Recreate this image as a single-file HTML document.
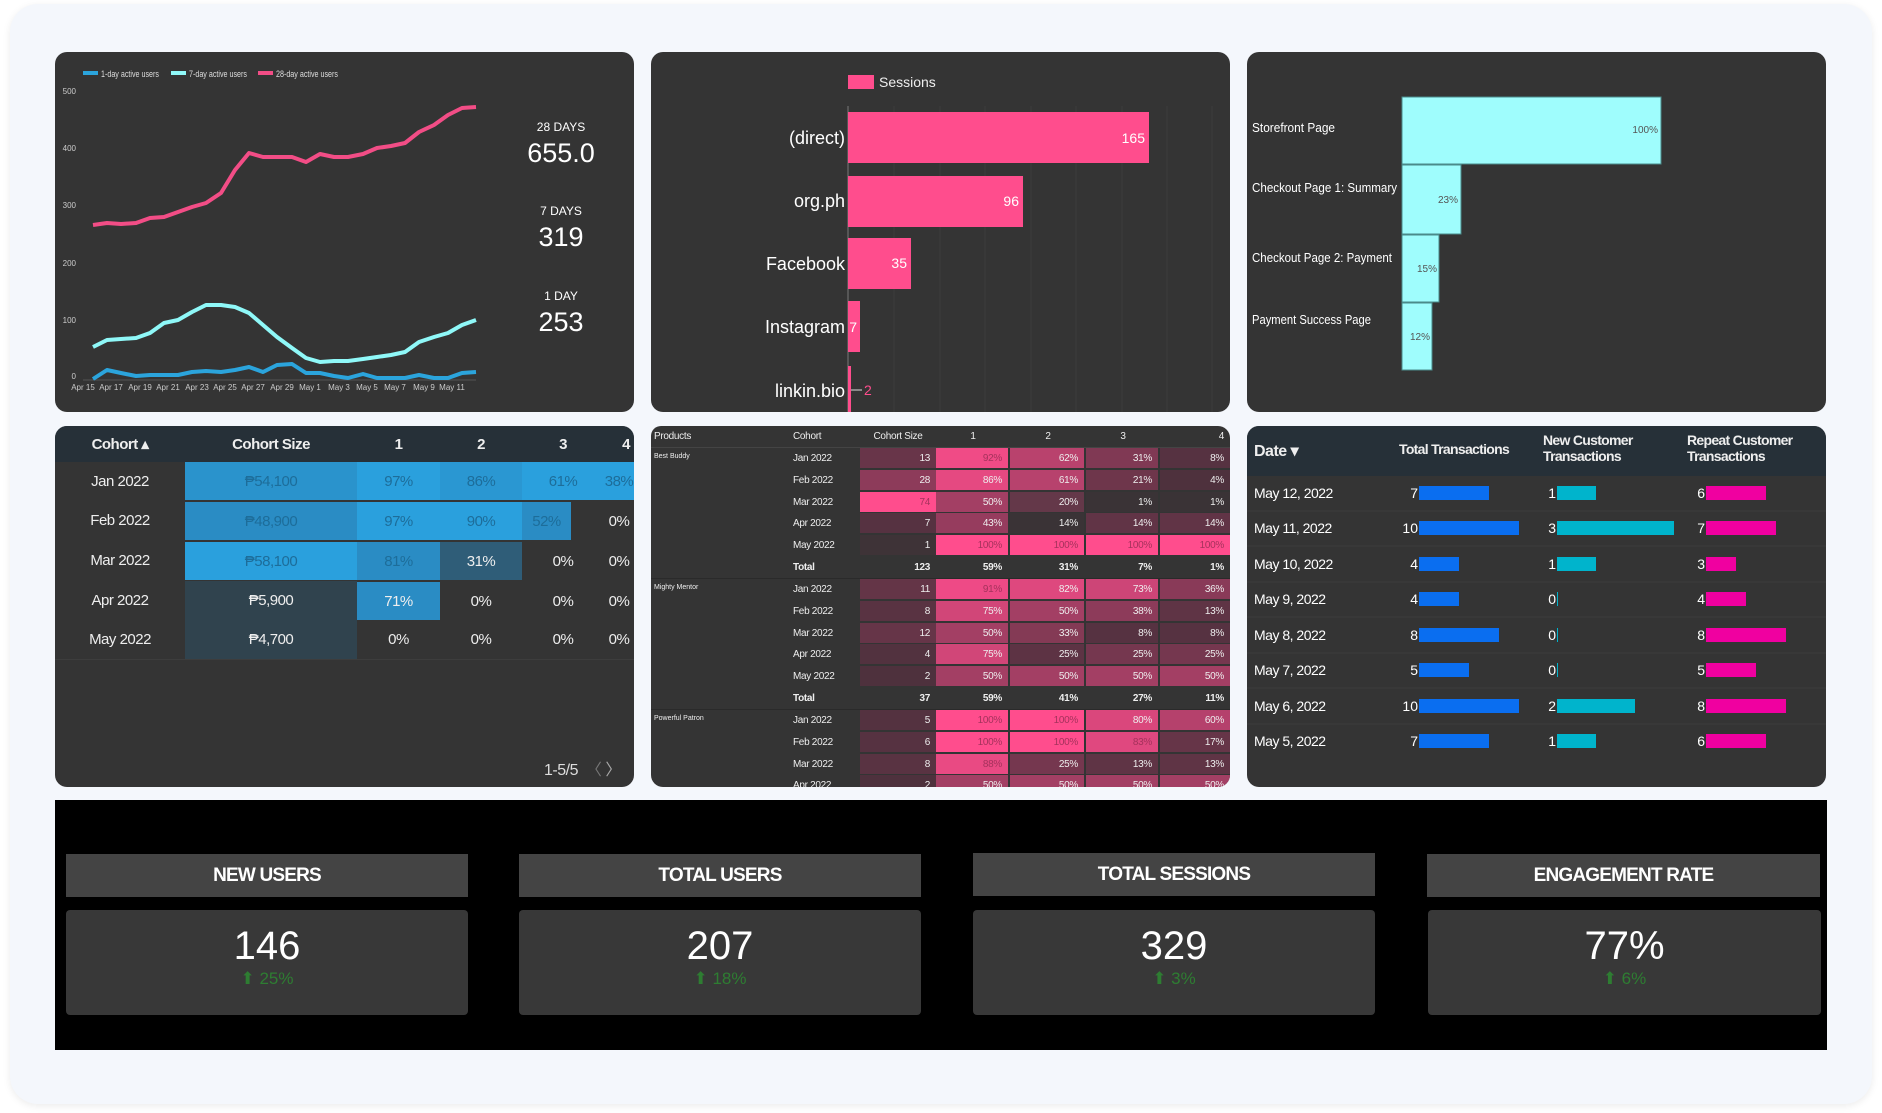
<!DOCTYPE html>
<html><head><meta charset="utf-8">
<style>
*{box-sizing:border-box;margin:0;padding:0}
body{width:1882px;height:1113px;background:#fff;position:relative;overflow:hidden;font-family:"Liberation Sans Narrow","Liberation Sans",sans-serif;color:#eee}
.card{position:absolute;left:10px;top:4px;width:1862px;height:1100px;background:#f4f7fc;border-radius:28px;box-shadow:0 2px 8px rgba(0,0,0,.08)}
.p{position:absolute;background:#343434;border-radius:12px;overflow:hidden}
.a{position:absolute;white-space:nowrap}
svg text{font-family:"Liberation Sans Narrow","Liberation Sans",sans-serif}
.lt .c{position:absolute;display:flex;align-items:center;justify-content:center;font-size:15px;letter-spacing:-0.5px}
.mt .c{position:absolute;display:flex;align-items:center;font-size:10px;height:20px;letter-spacing:-0.3px}
.r{justify-content:flex-end;padding-right:6px}
.kh{position:absolute;top:854px;height:43px;background:#444;display:flex;align-items:center;justify-content:center;font-family:"Liberation Sans",sans-serif;font-weight:bold;font-size:19px;letter-spacing:-0.8px;color:#fff}
.kv{position:absolute;top:910px;height:105px;background:#383838;border-radius:4px;text-align:center}
.kv b{display:block;font-family:"Liberation Sans",sans-serif;font-weight:normal;font-size:40px;color:#fff;margin-top:14px;line-height:44px}
.kv i{display:block;font-style:normal;font-family:"Liberation Sans",sans-serif;font-size:17px;color:#2e7d32;line-height:22px}
</style></head><body>
<div class="card"></div>

<div class="p" style="left:55px;top:52px;width:579px;height:360px"></div>
<div class="p" style="left:651px;top:52px;width:579px;height:360px"></div>
<div class="p" style="left:1247px;top:52px;width:579px;height:360px"></div>

<svg style="position:absolute;left:0;top:0" width="1882" height="1113">
<rect x="83" y="71" width="15" height="4" fill="#2ba4dc"/><text x="101" y="77" font-size="9" fill="#ddd" textLength="58" lengthAdjust="spacingAndGlyphs">1-day active users</text>
<rect x="171" y="71" width="15" height="4" fill="#8ff8f8"/><text x="189" y="77" font-size="9" fill="#ddd" textLength="58" lengthAdjust="spacingAndGlyphs">7-day active users</text>
<rect x="258" y="71" width="15" height="4" fill="#f24d86"/><text x="276" y="77" font-size="9" fill="#ddd" textLength="62" lengthAdjust="spacingAndGlyphs">28-day active users</text>
<g font-size="8" fill="#ccc" text-anchor="end">
<text x="76" y="94">500</text><text x="76" y="151">400</text><text x="76" y="208">300</text><text x="76" y="266">200</text><text x="76" y="323">100</text><text x="76" y="379">0</text>
</g>
<line x1="83" y1="380" x2="476" y2="380" stroke="#555" stroke-width="1"/>
<g font-size="8" fill="#ccc" text-anchor="middle">
<text x="83" y="390">Apr 15</text><text x="111" y="390">Apr 17</text><text x="140" y="390">Apr 19</text><text x="168" y="390">Apr 21</text><text x="197" y="390">Apr 23</text><text x="225" y="390">Apr 25</text><text x="253" y="390">Apr 27</text><text x="282" y="390">Apr 29</text><text x="310" y="390">May 1</text><text x="339" y="390">May 3</text><text x="367" y="390">May 5</text><text x="395" y="390">May 7</text><text x="424" y="390">May 9</text><text x="452" y="390">May 11</text>
</g>
<polyline fill="none" stroke="#f24d86" stroke-width="4" stroke-linejoin="round" points="93,225 107,223 121,224 136,223 150,218 164,217 178,212 192,207 206,203 221,193 235,170 249,153 263,157 277,157 292,157 306,162 320,154 334,157 348,157 363,154 377,148 391,146 405,143 419,132 434,125 448,115 462,108 476,107"/>
<polyline fill="none" stroke="#8ff8f8" stroke-width="4" stroke-linejoin="round" points="93,347 107,340 121,339 136,338 150,333 164,323 178,320 192,312 206,305 221,305 235,307 249,313 263,325 277,337 292,348 306,358 320,362 334,361 348,361 363,359 377,357 391,355 405,352 419,342 434,337 448,333 462,325 476,320"/>
<polyline fill="none" stroke="#2ba4dc" stroke-width="4" stroke-linejoin="round" points="93,379 107,370 121,373 136,376 150,375 164,375 178,375 192,372 206,371 221,372 235,370 249,367 263,372 277,365 292,364 306,373 320,373 334,376 348,378 363,374 377,378 391,378 405,378 419,375 434,378 448,378 462,373 476,372"/>
<g fill="#fff" text-anchor="middle">
<text x="561" y="131" font-size="12">28 DAYS</text><text x="561" y="162" font-size="27">655.0</text>
<text x="561" y="215" font-size="12">7 DAYS</text><text x="561" y="246" font-size="27">319</text>
<text x="561" y="300" font-size="12">1 DAY</text><text x="561" y="331" font-size="27">253</text>
</g>

<rect x="848" y="75" width="26" height="14" fill="#ff4d8d"/><text x="879" y="87" font-size="14" fill="#eee">Sessions</text>
<g stroke="#3c3c3c" stroke-width="1">
<line x1="894" y1="106" x2="894" y2="412"/><line x1="940" y1="106" x2="940" y2="412"/><line x1="985" y1="106" x2="985" y2="412"/><line x1="1031" y1="106" x2="1031" y2="412"/><line x1="1076" y1="106" x2="1076" y2="412"/><line x1="1122" y1="106" x2="1122" y2="412"/><line x1="1167" y1="106" x2="1167" y2="412"/><line x1="1212" y1="106" x2="1212" y2="412"/>
</g>
<line x1="848" y1="106" x2="848" y2="412" stroke="#777" stroke-width="1"/>
<rect x="848" y="112" width="301" height="51" fill="#ff4d8d"/>
<rect x="848" y="176" width="175" height="51" fill="#ff4d8d"/>
<rect x="848" y="238" width="63" height="51" fill="#ff4d8d"/>
<rect x="848" y="301" width="12" height="51" fill="#ff4d8d"/>
<rect x="848" y="366" width="3" height="46" fill="#ff4d8d"/>
<line x1="851" y1="390" x2="862" y2="390" stroke="#888" stroke-width="2"/>
<g font-size="14" fill="#fff" text-anchor="end"><text x="1145" y="143">165</text><text x="1019" y="206">96</text><text x="907" y="268">35</text><text x="857" y="332">7</text></g>
<text x="864" y="395" font-size="14" fill="#ff4d8d">2</text>
<g font-size="18" fill="#fff" text-anchor="end"><text x="845" y="144">(direct)</text><text x="845" y="207">org.ph</text><text x="845" y="270">Facebook</text><text x="845" y="333">Instagram</text><text x="845" y="397">linkin.bio</text></g>

<g fill="#9ffdfd" stroke="#4a8a8a" stroke-width="1">
<rect x="1402" y="97" width="259" height="67"/><rect x="1402" y="165" width="59" height="69"/><rect x="1402" y="235" width="37" height="67"/><rect x="1402" y="303" width="30" height="67"/>
</g>
<g font-size="10" fill="#555" text-anchor="end"><text x="1658" y="133">100%</text><text x="1458" y="203">23%</text><text x="1437" y="272">15%</text><text x="1430" y="340">12%</text></g>
<g font-size="13" fill="#fff" lengthAdjust="spacingAndGlyphs"><text x="1252" y="132" textLength="83" lengthAdjust="spacingAndGlyphs">Storefront Page</text><text x="1252" y="192" textLength="145" lengthAdjust="spacingAndGlyphs">Checkout Page 1: Summary</text><text x="1252" y="262" textLength="140" lengthAdjust="spacingAndGlyphs">Checkout Page 2: Payment</text><text x="1252" y="324" textLength="119" lengthAdjust="spacingAndGlyphs">Payment Success Page</text></g>
</svg>

<!-- Left cohort table -->
<div class="p lt" style="left:55px;top:426px;width:579px;height:361px">
<div class="a" style="left:0;top:0;width:579px;height:36px;background:#263038"></div>
<div class="c" style="left:0;top:0;width:130px;height:36px;font-weight:bold">Cohort ▴</div>
<div class="c" style="left:130px;top:0;width:172px;height:36px;font-weight:bold">Cohort Size</div>
<div class="c" style="left:302px;top:0;width:83px;height:36px;font-weight:bold">1</div>
<div class="c" style="left:385px;top:0;width:82px;height:36px;font-weight:bold">2</div>
<div class="c" style="left:467px;top:0;width:82px;height:36px;font-weight:bold">3</div>
<div class="c" style="left:549px;top:0;width:30px;height:36px;font-weight:bold;justify-content:flex-end;padding-right:4px">4</div>
<div class="c" style="left:0;top:36px;width:130px;height:39px">Jan 2022</div>
<div class="c" style="left:130px;top:36px;width:172px;height:38px;background:#2a93cc;color:#1d6d9a">₱54,100</div>
<div class="c" style="left:302px;top:36px;width:83px;height:38px;background:#2aa0dd;color:#1d6d9a">97%</div>
<div class="c" style="left:385px;top:36px;width:82px;height:38px;background:#2a97d2;color:#1d6d9a">86%</div>
<div class="c" style="left:467px;top:36px;width:82px;height:38px;background:#2aa0dd;color:#1d6d9a">61%</div>
<div class="c" style="left:549px;top:36px;width:30px;height:38px;background:#2aa0dd;color:#1d6d9a">38%</div>
<div class="c" style="left:0;top:75px;width:130px;height:39px">Feb 2022</div>
<div class="c" style="left:130px;top:76px;width:172px;height:38px;background:#2a8cc4;color:#1d6d9a">₱48,900</div>
<div class="c" style="left:302px;top:76px;width:83px;height:38px;background:#2aa0dd;color:#1d6d9a">97%</div>
<div class="c" style="left:385px;top:76px;width:82px;height:38px;background:#2aa0dd;color:#1d6d9a">90%</div>
<div class="c" style="left:467px;top:76px;width:49px;height:38px;background:#2a8cc4;color:#1d6d9a">52%</div>
<div class="c" style="left:549px;top:76px;width:30px;height:38px">0%</div>
<div class="c" style="left:0;top:115px;width:130px;height:39px">Mar 2022</div>
<div class="c" style="left:130px;top:116px;width:172px;height:38px;background:#2aa0dd;color:#1d6d9a">₱58,100</div>
<div class="c" style="left:302px;top:116px;width:83px;height:38px;background:#2a8cc4;color:#1d6d9a">81%</div>
<div class="c" style="left:385px;top:116px;width:82px;height:38px;background:#2f5d78">31%</div>
<div class="c" style="left:467px;top:116px;width:82px;height:38px">0%</div>
<div class="c" style="left:549px;top:116px;width:30px;height:38px">0%</div>
<div class="c" style="left:0;top:155px;width:130px;height:39px">Apr 2022</div>
<div class="c" style="left:130px;top:155px;width:172px;height:39px;background:#30434e">₱5,900</div>
<div class="c" style="left:302px;top:156px;width:83px;height:38px;background:#2a8cc4">71%</div>
<div class="c" style="left:385px;top:156px;width:82px;height:38px">0%</div>
<div class="c" style="left:467px;top:156px;width:82px;height:38px">0%</div>
<div class="c" style="left:549px;top:156px;width:30px;height:38px">0%</div>
<div class="c" style="left:0;top:194px;width:130px;height:39px">May 2022</div>
<div class="c" style="left:130px;top:194px;width:172px;height:39px;background:#30434e">₱4,700</div>
<div class="c" style="left:302px;top:194px;width:83px;height:39px">0%</div>
<div class="c" style="left:385px;top:194px;width:82px;height:39px">0%</div>
<div class="c" style="left:467px;top:194px;width:82px;height:39px">0%</div>
<div class="c" style="left:549px;top:194px;width:30px;height:39px">0%</div>
<div class="a" style="left:0;top:233px;width:579px;height:1px;background:#3d3d3d"></div>
<div class="a" style="left:489px;top:206px;top:330px;font-size:16px;color:#ddd;letter-spacing:-0.5px">1-5/5 &nbsp;<span style="color:#777">〈</span> <span style="color:#aaa">〉</span></div>
</div>

<!-- Middle heatmap -->
<div class="p mt" style="left:651px;top:426px;width:579px;height:361px;border-top-left-radius:10px">
<div class="c" style="left:3px;top:0;font-size:10px">Products</div>
<div class="c" style="left:142px;top:0">Cohort</div>
<div class="c" style="left:209px;top:0;width:76px;justify-content:center">Cohort Size</div>
<div class="c" style="left:285px;top:0;width:74px;justify-content:center">1</div>
<div class="c" style="left:359px;top:0;width:76px;justify-content:center">2</div>
<div class="c" style="left:435px;top:0;width:74px;justify-content:center">3</div>
<div class="c r" style="left:509px;top:0;width:70px">4</div>
<div class="a" style="left:0;top:21px;width:579px;height:1px;background:#444"></div>
<div class="a" style="left:3px;top:27px;font-size:7px">Best Buddy</div>
<div class="a" style="left:3px;top:158px;font-size:7px">Mighty Mentor</div>
<div class="a" style="left:3px;top:289px;font-size:7px">Powerful Patron</div>
<div class="a" style="left:0;top:152px;width:579px;height:1px;background:#2a2a2a"></div>
<div class="a" style="left:0;top:283px;width:579px;height:1px;background:#2a2a2a"></div>

<div class="c" style="left:142px;top:22px">Jan 2022</div>
<div class="c r" style="left:209px;top:22px;width:76px;background:color-mix(in srgb,#ff4d8d 18%,#47303a)">13</div>
<div class="c r" style="left:285px;top:22px;width:72px;background:color-mix(in srgb,#ff4d8d 92%,#47303a);color:#a5325c">92%</div>
<div class="c r" style="left:359px;top:22px;width:74px;background:color-mix(in srgb,#ff4d8d 62%,#47303a)">62%</div>
<div class="c r" style="left:435px;top:22px;width:72px;background:color-mix(in srgb,#ff4d8d 31%,#47303a)">31%</div>
<div class="c r" style="left:509px;top:22px;width:70px;background:color-mix(in srgb,#ff4d8d 8%,#47303a)">8%</div>
<div class="c" style="left:142px;top:44px">Feb 2022</div>
<div class="c r" style="left:209px;top:44px;width:76px;background:color-mix(in srgb,#ff4d8d 38%,#47303a)">28</div>
<div class="c r" style="left:285px;top:44px;width:72px;background:color-mix(in srgb,#ff4d8d 86%,#47303a)">86%</div>
<div class="c r" style="left:359px;top:44px;width:74px;background:color-mix(in srgb,#ff4d8d 61%,#47303a)">61%</div>
<div class="c r" style="left:435px;top:44px;width:72px;background:color-mix(in srgb,#ff4d8d 21%,#47303a)">21%</div>
<div class="c r" style="left:509px;top:44px;width:70px;background:color-mix(in srgb,#ff4d8d 4%,#47303a)">4%</div>
<div class="c" style="left:142px;top:66px">Mar 2022</div>
<div class="c r" style="left:209px;top:66px;width:76px;background:#ff4d8d;color:#a5325c">74</div>
<div class="c r" style="left:285px;top:66px;width:72px;background:color-mix(in srgb,#ff4d8d 50%,#47303a)">50%</div>
<div class="c r" style="left:359px;top:66px;width:74px;background:color-mix(in srgb,#ff4d8d 20%,#3d3338)">20%</div>
<div class="c r" style="left:435px;top:66px;width:72px;background:#3a3336">1%</div>
<div class="c r" style="left:509px;top:66px;width:70px;background:#3a3336">1%</div>
<div class="c" style="left:142px;top:87px">Apr 2022</div>
<div class="c r" style="left:209px;top:87px;width:76px;background:color-mix(in srgb,#ff4d8d 8%,#47303a)">7</div>
<div class="c r" style="left:285px;top:87px;width:72px;background:color-mix(in srgb,#ff4d8d 43%,#47303a)">43%</div>
<div class="c r" style="left:359px;top:87px;width:74px;background:#3a3336">14%</div>
<div class="c r" style="left:435px;top:87px;width:72px;background:color-mix(in srgb,#ff4d8d 14%,#47303a)">14%</div>
<div class="c r" style="left:509px;top:87px;width:70px;background:color-mix(in srgb,#ff4d8d 14%,#47303a)">14%</div>
<div class="c" style="left:142px;top:109px">May 2022</div>
<div class="c r" style="left:209px;top:109px;width:76px;background:#3e3337">1</div>
<div class="c r" style="left:285px;top:109px;width:72px;background:#ff4d8d;color:#a5325c">100%</div>
<div class="c r" style="left:359px;top:109px;width:74px;background:#ff4d8d;color:#a5325c">100%</div>
<div class="c r" style="left:435px;top:109px;width:72px;background:#ff4d8d;color:#a5325c">100%</div>
<div class="c r" style="left:509px;top:109px;width:70px;background:#ff4d8d;color:#a5325c">100%</div>
<div class="c" style="left:142px;top:131px;font-weight:bold">Total</div>
<div class="c r" style="left:209px;top:131px;width:76px;font-weight:bold">123</div>
<div class="c r" style="left:285px;top:131px;width:72px;font-weight:bold">59%</div>
<div class="c r" style="left:359px;top:131px;width:74px;font-weight:bold">31%</div>
<div class="c r" style="left:435px;top:131px;width:72px;font-weight:bold">7%</div>
<div class="c r" style="left:509px;top:131px;width:70px;font-weight:bold">1%</div>
<div class="c" style="left:142px;top:153px">Jan 2022</div>
<div class="c r" style="left:209px;top:153px;width:76px;background:color-mix(in srgb,#ff4d8d 16%,#47303a)">11</div>
<div class="c r" style="left:285px;top:153px;width:72px;background:color-mix(in srgb,#ff4d8d 91%,#47303a);color:#a5325c">91%</div>
<div class="c r" style="left:359px;top:153px;width:74px;background:color-mix(in srgb,#ff4d8d 82%,#47303a)">82%</div>
<div class="c r" style="left:435px;top:153px;width:72px;background:color-mix(in srgb,#ff4d8d 73%,#47303a)">73%</div>
<div class="c r" style="left:509px;top:153px;width:70px;background:color-mix(in srgb,#ff4d8d 36%,#47303a)">36%</div>
<div class="c" style="left:142px;top:175px">Feb 2022</div>
<div class="c r" style="left:209px;top:175px;width:76px;background:color-mix(in srgb,#ff4d8d 10%,#47303a)">8</div>
<div class="c r" style="left:285px;top:175px;width:72px;background:color-mix(in srgb,#ff4d8d 75%,#47303a)">75%</div>
<div class="c r" style="left:359px;top:175px;width:74px;background:color-mix(in srgb,#ff4d8d 50%,#47303a)">50%</div>
<div class="c r" style="left:435px;top:175px;width:72px;background:color-mix(in srgb,#ff4d8d 38%,#47303a)">38%</div>
<div class="c r" style="left:509px;top:175px;width:70px;background:color-mix(in srgb,#ff4d8d 13%,#47303a)">13%</div>
<div class="c" style="left:142px;top:197px">Mar 2022</div>
<div class="c r" style="left:209px;top:197px;width:76px;background:color-mix(in srgb,#ff4d8d 17%,#47303a)">12</div>
<div class="c r" style="left:285px;top:197px;width:72px;background:color-mix(in srgb,#ff4d8d 50%,#47303a)">50%</div>
<div class="c r" style="left:359px;top:197px;width:74px;background:color-mix(in srgb,#ff4d8d 33%,#47303a)">33%</div>
<div class="c r" style="left:435px;top:197px;width:72px;background:color-mix(in srgb,#ff4d8d 8%,#47303a)">8%</div>
<div class="c r" style="left:509px;top:197px;width:70px;background:color-mix(in srgb,#ff4d8d 8%,#47303a)">8%</div>
<div class="c" style="left:142px;top:218px">Apr 2022</div>
<div class="c r" style="left:209px;top:218px;width:76px;background:color-mix(in srgb,#ff4d8d 6%,#47303a)">4</div>
<div class="c r" style="left:285px;top:218px;width:72px;background:color-mix(in srgb,#ff4d8d 75%,#47303a)">75%</div>
<div class="c r" style="left:359px;top:218px;width:74px;background:color-mix(in srgb,#ff4d8d 12%,#47303a)">25%</div>
<div class="c r" style="left:435px;top:218px;width:72px;background:color-mix(in srgb,#ff4d8d 25%,#47303a)">25%</div>
<div class="c r" style="left:509px;top:218px;width:70px;background:color-mix(in srgb,#ff4d8d 25%,#47303a)">25%</div>
<div class="c" style="left:142px;top:240px">May 2022</div>
<div class="c r" style="left:209px;top:240px;width:76px;background:color-mix(in srgb,#ff4d8d 4%,#47303a)">2</div>
<div class="c r" style="left:285px;top:240px;width:72px;background:color-mix(in srgb,#ff4d8d 50%,#47303a)">50%</div>
<div class="c r" style="left:359px;top:240px;width:74px;background:color-mix(in srgb,#ff4d8d 50%,#47303a)">50%</div>
<div class="c r" style="left:435px;top:240px;width:72px;background:color-mix(in srgb,#ff4d8d 50%,#47303a)">50%</div>
<div class="c r" style="left:509px;top:240px;width:70px;background:color-mix(in srgb,#ff4d8d 50%,#47303a)">50%</div>
<div class="c" style="left:142px;top:262px;font-weight:bold">Total</div>
<div class="c r" style="left:209px;top:262px;width:76px;font-weight:bold">37</div>
<div class="c r" style="left:285px;top:262px;width:72px;font-weight:bold">59%</div>
<div class="c r" style="left:359px;top:262px;width:74px;font-weight:bold">41%</div>
<div class="c r" style="left:435px;top:262px;width:72px;font-weight:bold">27%</div>
<div class="c r" style="left:509px;top:262px;width:70px;font-weight:bold">11%</div>
<div class="c" style="left:142px;top:284px">Jan 2022</div>
<div class="c r" style="left:209px;top:284px;width:76px;background:color-mix(in srgb,#ff4d8d 7%,#47303a)">5</div>
<div class="c r" style="left:285px;top:284px;width:72px;background:#ff4d8d;color:#a5325c">100%</div>
<div class="c r" style="left:359px;top:284px;width:74px;background:#ff4d8d;color:#a5325c">100%</div>
<div class="c r" style="left:435px;top:284px;width:72px;background:color-mix(in srgb,#ff4d8d 80%,#47303a)">80%</div>
<div class="c r" style="left:509px;top:284px;width:70px;background:color-mix(in srgb,#ff4d8d 60%,#47303a)">60%</div>
<div class="c" style="left:142px;top:306px">Feb 2022</div>
<div class="c r" style="left:209px;top:306px;width:76px;background:color-mix(in srgb,#ff4d8d 8%,#47303a)">6</div>
<div class="c r" style="left:285px;top:306px;width:72px;background:#ff4d8d;color:#a5325c">100%</div>
<div class="c r" style="left:359px;top:306px;width:74px;background:#ff4d8d;color:#a5325c">100%</div>
<div class="c r" style="left:435px;top:306px;width:72px;background:color-mix(in srgb,#ff4d8d 83%,#47303a);color:#a5325c">83%</div>
<div class="c r" style="left:509px;top:306px;width:70px;background:color-mix(in srgb,#ff4d8d 17%,#47303a)">17%</div>
<div class="c" style="left:142px;top:328px">Mar 2022</div>
<div class="c r" style="left:209px;top:328px;width:76px;background:color-mix(in srgb,#ff4d8d 10%,#47303a)">8</div>
<div class="c r" style="left:285px;top:328px;width:72px;background:color-mix(in srgb,#ff4d8d 88%,#47303a);color:#a5325c">88%</div>
<div class="c r" style="left:359px;top:328px;width:74px;background:color-mix(in srgb,#ff4d8d 25%,#47303a)">25%</div>
<div class="c r" style="left:435px;top:328px;width:72px;background:color-mix(in srgb,#ff4d8d 13%,#47303a)">13%</div>
<div class="c r" style="left:509px;top:328px;width:70px;background:color-mix(in srgb,#ff4d8d 13%,#47303a)">13%</div>
<div class="c" style="left:142px;top:349px">Apr 2022</div>
<div class="c r" style="left:209px;top:349px;width:76px;background:color-mix(in srgb,#ff4d8d 4%,#47303a)">2</div>
<div class="c r" style="left:285px;top:349px;width:72px;background:color-mix(in srgb,#ff4d8d 50%,#47303a)">50%</div>
<div class="c r" style="left:359px;top:349px;width:74px;background:color-mix(in srgb,#ff4d8d 50%,#47303a)">50%</div>
<div class="c r" style="left:435px;top:349px;width:72px;background:color-mix(in srgb,#ff4d8d 50%,#47303a)">50%</div>
<div class="c r" style="left:509px;top:349px;width:70px;background:color-mix(in srgb,#ff4d8d 50%,#47303a)">50%</div>
</div>

<!-- Right transactions table -->
<div class="p" style="left:1247px;top:426px;width:579px;height:361px">
<div class="a" style="left:0;top:0;width:579px;height:50px;background:#263038"></div>
<div class="a" style="left:7px;top:15px;font-size:16px;font-weight:bold;letter-spacing:-0.5px">Date ▾</div>
<div class="a" style="left:152px;top:15px;font-size:14px;font-weight:bold;letter-spacing:-0.7px">Total Transactions</div>
<div class="a" style="left:296px;top:6px;font-size:14px;font-weight:bold;letter-spacing:-0.7px;line-height:16px">New Customer<br>Transactions</div>
<div class="a" style="left:440px;top:6px;font-size:14px;font-weight:bold;letter-spacing:-0.7px;line-height:16px">Repeat Customer<br>Transactions</div>
<svg class="a" style="left:0;top:0" width="579" height="361">
<g stroke="#3d3d3d"><line x1="0" y1="85" x2="579" y2="85"/><line x1="0" y1="120" x2="579" y2="120"/><line x1="0" y1="156" x2="579" y2="156"/><line x1="0" y1="191" x2="579" y2="191"/><line x1="0" y1="227" x2="579" y2="227"/><line x1="0" y1="262" x2="579" y2="262"/><line x1="0" y1="298" x2="579" y2="298"/></g>
<g font-size="14" fill="#fff" letter-spacing="-0.5">
<text x="7" y="72">May 12, 2022</text><text x="7" y="107">May 11, 2022</text><text x="7" y="143">May 10, 2022</text><text x="7" y="178">May 9, 2022</text><text x="7" y="214">May 8, 2022</text><text x="7" y="249">May 7, 2022</text><text x="7" y="285">May 6, 2022</text><text x="7" y="320">May 5, 2022</text>
</g>
<g font-size="14" fill="#fff" text-anchor="end">
<text x="171" y="72">7</text><text x="171" y="107">10</text><text x="171" y="143">4</text><text x="171" y="178">4</text><text x="171" y="214">8</text><text x="171" y="249">5</text><text x="171" y="285">10</text><text x="171" y="320">7</text>
<text x="309" y="72">1</text><text x="309" y="107">3</text><text x="309" y="143">1</text><text x="309" y="178">0</text><text x="309" y="214">0</text><text x="309" y="249">0</text><text x="309" y="285">2</text><text x="309" y="320">1</text>
<text x="458" y="72">6</text><text x="458" y="107">7</text><text x="458" y="143">3</text><text x="458" y="178">4</text><text x="458" y="214">8</text><text x="458" y="249">5</text><text x="458" y="285">8</text><text x="458" y="320">6</text>
</g>
<g fill="#0a6ef0">
<rect x="172" y="60" width="70" height="14"/><rect x="172" y="95" width="100" height="14"/><rect x="172" y="131" width="40" height="14"/><rect x="172" y="166" width="40" height="14"/><rect x="172" y="202" width="80" height="14"/><rect x="172" y="237" width="50" height="14"/><rect x="172" y="273" width="100" height="14"/><rect x="172" y="308" width="70" height="14"/>
</g>
<g fill="#00b4cc">
<rect x="310" y="60" width="39" height="14"/><rect x="310" y="95" width="117" height="14"/><rect x="310" y="131" width="39" height="14"/><rect x="310" y="166" width="1" height="14"/><rect x="310" y="202" width="1" height="14"/><rect x="310" y="237" width="1" height="14"/><rect x="310" y="273" width="78" height="14"/><rect x="310" y="308" width="39" height="14"/>
</g>
<g fill="#f000a0">
<rect x="459" y="60" width="60" height="14"/><rect x="459" y="95" width="70" height="14"/><rect x="459" y="131" width="30" height="14"/><rect x="459" y="166" width="40" height="14"/><rect x="459" y="202" width="80" height="14"/><rect x="459" y="237" width="50" height="14"/><rect x="459" y="273" width="80" height="14"/><rect x="459" y="308" width="60" height="14"/>
</g>
</svg>
</div>

<!-- KPI band -->
<div class="a" style="left:55px;top:800px;width:1772px;height:250px;background:#000"></div>
<div class="kh" style="left:66px;width:402px">NEW USERS</div>
<div class="kv" style="left:66px;width:402px"><b>146</b><i>⬆ 25%</i></div>
<div class="kh" style="left:519px;width:402px">TOTAL USERS</div>
<div class="kv" style="left:519px;width:402px"><b>207</b><i>⬆ 18%</i></div>
<div class="kh" style="left:973px;width:402px;top:853px">TOTAL SESSIONS</div>
<div class="kv" style="left:973px;width:402px"><b>329</b><i>⬆ 3%</i></div>
<div class="kh" style="left:1427px;width:393px">ENGAGEMENT RATE</div>
<div class="kv" style="left:1428px;width:393px"><b>77%</b><i>⬆ 6%</i></div>
</body></html>
